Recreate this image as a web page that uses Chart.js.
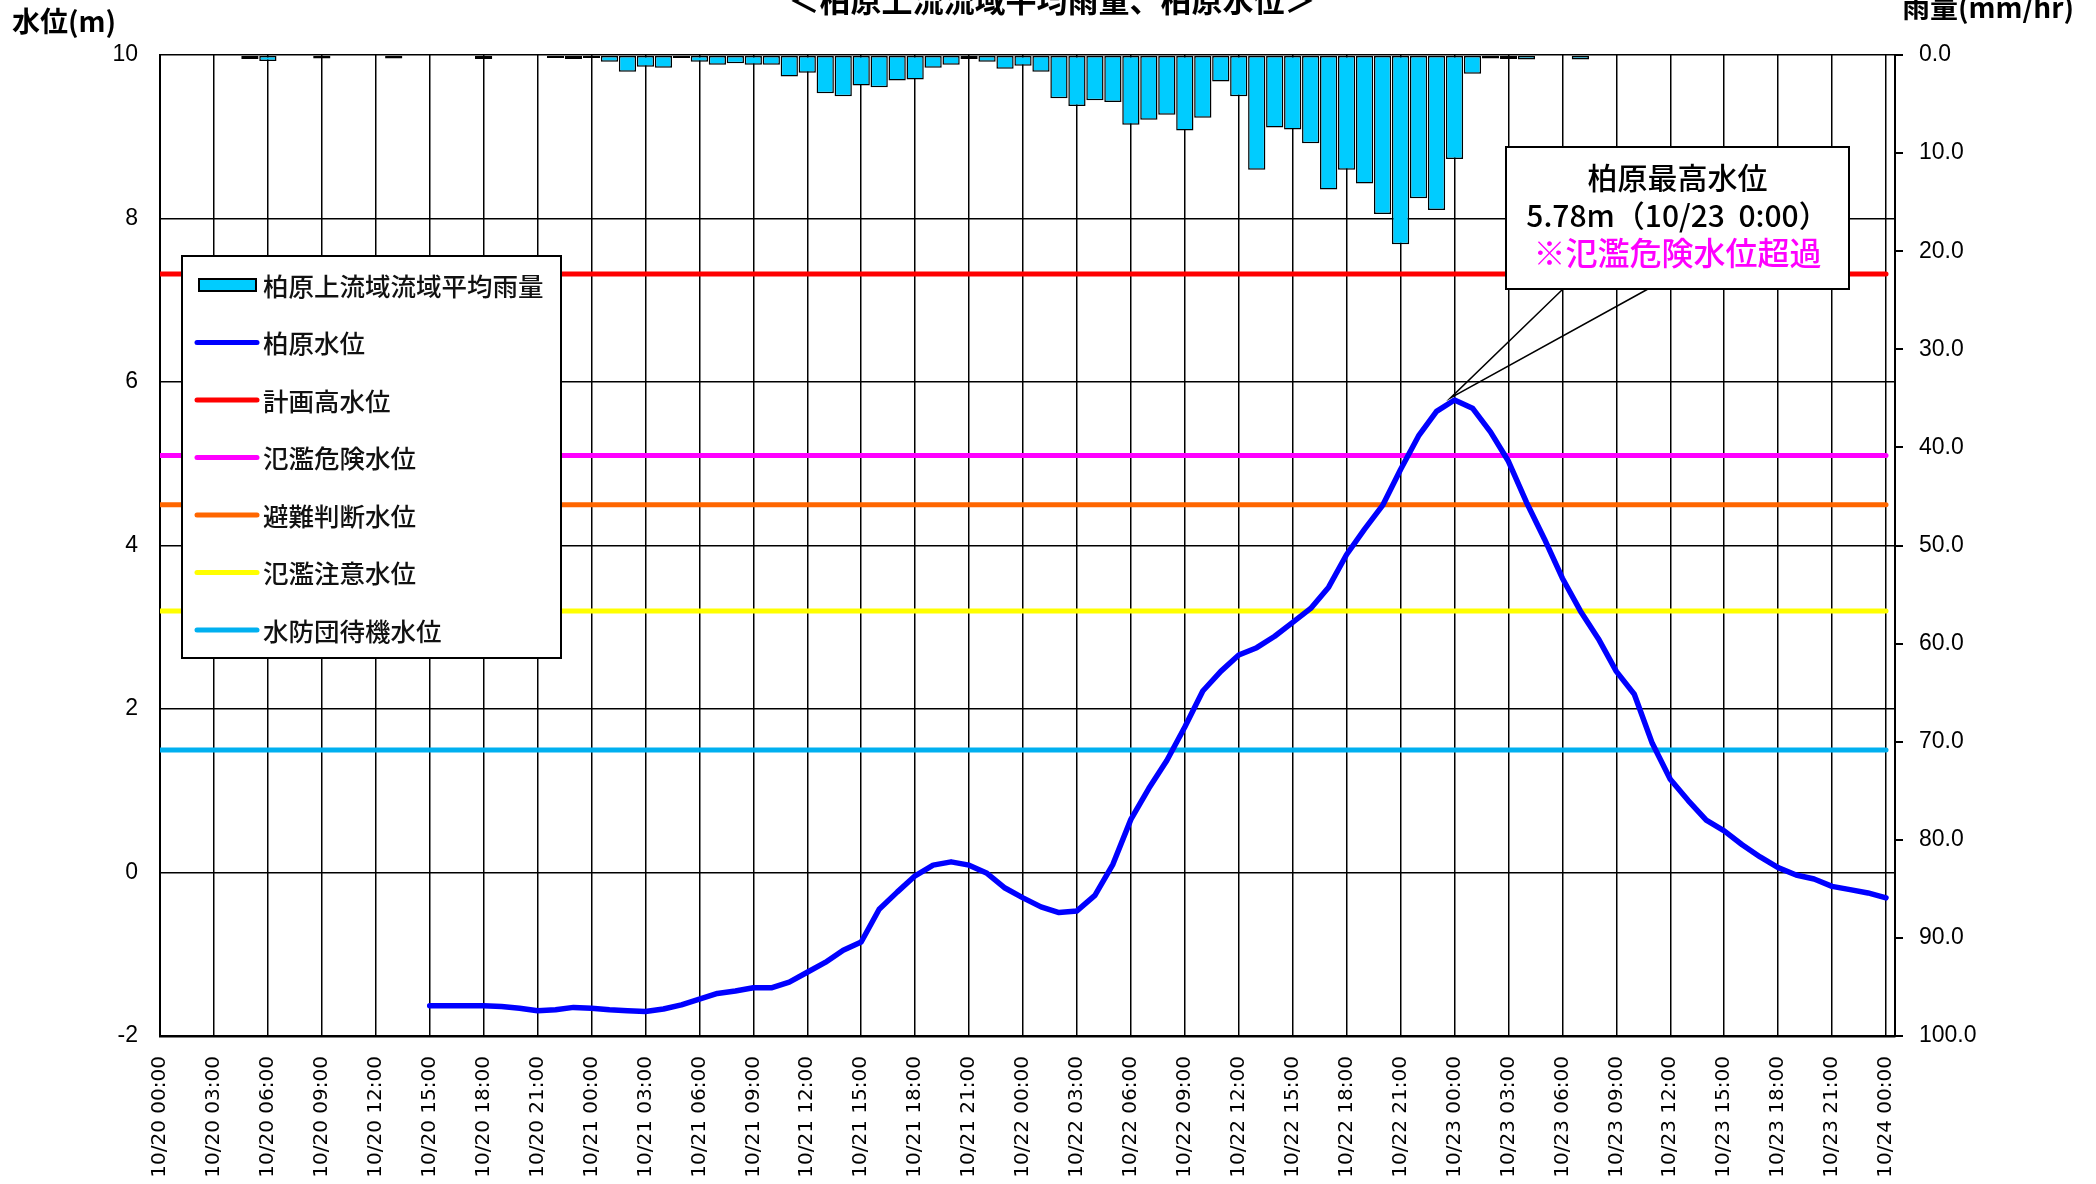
<!DOCTYPE html>
<html lang="ja">
<head>
<meta charset="utf-8">
<title>柏原上流流域平均雨量、柏原水位</title>
<script src="https://cdn.jsdelivr.net/npm/chart.js@4.4.1/dist/chart.umd.min.js"></script>
<style>
body{margin:0;background:#fff;}
#wrap{width:2096px;height:1184px;}
</style>
</head>
<body>
<div id="wrap"><canvas id="chart" width="2096" height="1184"></canvas></div>
<script>
// 10/20 00:00 - 10/24 00:00, hourly (97 points)
const timeLabels = []
for(let h = 0; h <= 96; h++){
    const day = 20 + Math.floor(h / 24)
    const hour = h % 24
    timeLabels.push("10/" + day + " " + (hour >= 10 ? hour : "0" + hour) + ":00")
}
const timeTicks = [0, 3, 6, 9, 12, 15, 18, 21, 24, 27, 30, 33, 36, 39, 42, 45, 48, 51, 54, 57, 60, 63, 66, 69, 72, 75, 78, 81, 84, 87, 90, 93, 96]
const levelTicks = [-2, 0, 2, 4, 6, 8, 10]
const rainTicks = [0, 10, 20, 30, 40, 50, 60, 70, 80, 90, 100]

// 柏原上流域流域平均雨量 (mm/hr)
const rainfall = [
    0, 0.1, 0, 0.1, 0, 0.4, 0.6, 0, 0.1, 0.35, 0.1, 0.1, 0, 0.35, 0.1, 0, 0, 0, 0.4, 0, 0.1, 0, 0.3, 0.4,             // 10/20
    0.3, 0.7, 1.7, 1.2, 1.3, 0.3, 0.7, 1.0, 0.85, 1.0, 1.0, 2.2, 1.8, 3.9, 4.2, 3.1, 3.3, 2.6, 2.5, 1.3, 1.0, 0.4, 0.7, 1.4, // 10/21
    1.1, 1.7, 4.4, 5.2, 4.6, 4.8, 7.1, 6.6, 6.1, 7.7, 6.4, 2.7, 4.2, 11.7, 7.4, 7.6, 9.0, 13.7, 11.7, 13.1, 16.2, 19.3, 14.6, 15.8, // 10/22
    10.6, 1.9, 0.35, 0.4, 0.45, 0.1, 0, 0.45, 0, 0, 0, 0, 0, 0, 0, 0, 0, 0, 0, 0, 0, 0, 0, 0,   // 10/23
    0                                                                                           // 10/24 0:00
]

// 柏原水位 (m)
const waterLevel = [
    null, null, null, null, null, null, null, null, null, null, null, null, null, null, null,
    -1.63, -1.63, -1.63, -1.63, -1.64, -1.66, -1.69, -1.68, -1.65,
    -1.66, -1.68, -1.69, -1.70, -1.67, -1.62, -1.55, -1.48, -1.45, -1.41, -1.41, -1.34,
    -1.22, -1.10, -0.95, -0.85, -0.45, -0.24, -0.04, 0.09, 0.13, 0.09, -0.01, -0.19,
    -0.31, -0.42, -0.49, -0.47, -0.28, 0.10, 0.65, 1.03, 1.37, 1.78, 2.22, 2.46,
    2.66, 2.75, 2.89, 3.06, 3.23, 3.49, 3.89, 4.20, 4.49, 4.93, 5.34, 5.64,
    5.78, 5.68, 5.39, 5.03, 4.53, 4.08, 3.60, 3.20, 2.86, 2.46, 2.18, 1.58,
    1.14, 0.88, 0.64, 0.51, 0.34, 0.19, 0.06, -0.03, -0.08, -0.17, -0.21, -0.25,
    -0.31
]

// 基準水位
const thresholdNames = ["計画高水位", "氾濫危険水位", "避難判断水位", "氾濫注意水位", "水防団待機水位"]
const thresholdValues = [7.32, 5.10, 4.50, 3.20, 1.50]
const thresholdColors = ["#FF0000", "#FF00FF", "#FF6600", "#FFFF00", "#00B0F0"]

const chartTitle = "＜柏原上流流域平均雨量、柏原水位＞"
const leftTitle = "水位(m)"
const rightTitle = "雨量(mm/hr)"
const calloutLines = ["柏原最高水位", "5.78m（10/23  0:00）", "※氾濫危険水位超過"]
const calloutColors = ["#000000", "#000000", "#FF00FF"]

const CJK = '"Noto Sans CJK JP", sans-serif'
Chart.defaults.font.family = CJK

const datasets = [{
    type: "bar",
    label: "柏原上流域流域平均雨量",
    data: rainfall.map((v, i) => ({x: i, y: v})),
    yAxisID: "y2",
    backgroundColor: "#00CCFF",
    borderColor: "#000000",
    borderWidth: 1.5,
    borderSkipped: false,
    barPercentage: 0.96,
    categoryPercentage: 1,
    order: 3
}, {
    type: "line",
    label: "柏原水位",
    data: waterLevel.map((v, i) => ({x: i, y: v})),
    yAxisID: "y",
    borderColor: "#0000FF",
    borderWidth: 5.5,
    borderCapStyle: "round",
    borderJoinStyle: "round",
    pointRadius: 0,
    tension: 0,
    fill: false,
    order: 0
}]
for(let i = 0; i < thresholdNames.length; i++){
    datasets.push({
        type: "line",
        label: thresholdNames[i],
        data: [{x: 0, y: thresholdValues[i]}, {x: 96, y: thresholdValues[i]}],
        yAxisID: "y",
        borderColor: thresholdColors[i],
        borderWidth: 5,
        borderCapStyle: "round",
        pointRadius: 0,
        fill: false,
        order: 1
    })
}

// titles, legend box and callout drawn on top
const overlay = {
    id: "overlay",
    afterDraw(chart){
        const ctx = chart.ctx
        const area = chart.chartArea
        ctx.save()

        ctx.fillStyle = "#000"
        ctx.textBaseline = "alphabetic"
        ctx.font = "bold 31px " + CJK
        ctx.textAlign = "center"
        ctx.fillText(chartTitle, 1052, 12)
        ctx.font = "bold 28px " + CJK
        ctx.textAlign = "left"
        ctx.fillText(leftTitle, 12, 32)
        ctx.textAlign = "right"
        ctx.fillText(rightTitle, 2074, 18)

        // legend
        const lx = area.left + 22, ly = area.top + 201
        ctx.fillStyle = "#fff"
        ctx.fillRect(lx, ly, 379, 402)
        ctx.strokeStyle = "#000"
        ctx.lineWidth = 2
        ctx.strokeRect(lx, ly, 379, 402)
        ctx.font = "500 25.5px " + CJK
        ctx.textAlign = "left"
        ctx.textBaseline = "middle"
        chart.data.datasets.forEach((ds, i) => {
            const cy = ly + 29 + i * 57.5
            if(ds.type === "bar"){
                ctx.fillStyle = ds.backgroundColor
                ctx.fillRect(lx + 17, cy - 6, 57, 12)
                ctx.lineWidth = 2
                ctx.strokeStyle = "#000"
                ctx.strokeRect(lx + 17, cy - 6, 57, 12)
            }else{
                ctx.strokeStyle = ds.borderColor
                ctx.lineWidth = 5
                ctx.lineCap = "round"
                ctx.beginPath()
                ctx.moveTo(lx + 15, cy)
                ctx.lineTo(lx + 75, cy)
                ctx.stroke()
            }
            ctx.fillStyle = "#111"
            ctx.fillText(ds.label, lx + 81, cy + 1)
        })

        // callout for the peak
        let peak = 0
        waterLevel.forEach((v, i) => { if(v !== null && v > waterLevel[peak]) peak = i })
        const px = chart.scales.x.getPixelForValue(peak)
        const py = chart.scales.y.getPixelForValue(waterLevel[peak])
        const bx = 1506, by = 147, bw = 343, bh = 142
        ctx.lineCap = "butt"
        ctx.strokeStyle = "#000"
        ctx.lineWidth = 1.5
        ctx.beginPath()
        ctx.moveTo(bx + 57, by + bh)
        ctx.lineTo(px - 4, py - 2)
        ctx.lineTo(bx + 142, by + bh)
        ctx.stroke()
        ctx.fillStyle = "#fff"
        ctx.fillRect(bx, by, bw, bh)
        ctx.lineWidth = 2
        ctx.strokeRect(bx, by, bw, bh)
        ctx.textAlign = "center"
        calloutLines.forEach((t, i) => {
            ctx.font = (i == 2 ? "500 32px " : "500 30px ") + CJK
            ctx.fillStyle = calloutColors[i]
            ctx.fillText(t, bx + bw / 2, by + 31 + i * 37.5)
        })
        ctx.restore()
    }
}

new Chart(document.getElementById("chart"), {
    type: "line",
    data: {datasets: datasets},
    options: {
        responsive: false,
        devicePixelRatio: 1,
        animation: false,
        events: [],
        layout: {padding: {top: 55, left: 0, right: 0, bottom: 0}},
        plugins: {
            legend: {display: false},
            tooltip: {enabled: false}
        },
        scales: {
            x: {
                type: "linear",
                min: 0,
                max: 96.5,
                offset: false,
                afterBuildTicks: s => { s.ticks = timeTicks.map(v => ({value: v})) },
                afterFit: s => { s.height = 148 },
                grid: {color: "#000", lineWidth: 1.5, drawTicks: false, offset: false},
                border: {color: "#000", width: 2.5},
                ticks: {
                    autoSkip: false,
                    minRotation: 90,
                    maxRotation: 90,
                    padding: 20,
                    color: "#000",
                    font: {family: '"DejaVu Sans"', size: 20},
                    callback: v => timeLabels[v]
                }
            },
            y: {
                position: "left",
                min: -2,
                max: 10,
                afterBuildTicks: s => { s.ticks = levelTicks.map(v => ({value: v})) },
                afterFit: s => { s.width = 160 },
                grid: {color: "#000", lineWidth: 1.5, drawTicks: false},
                border: {color: "#000", width: 2},
                ticks: {padding: 22, color: "#000", font: {family: '"Liberation Sans"', size: 23}}
            },
            y2: {
                position: "right",
                min: 0,
                max: 100,
                reverse: true,
                afterBuildTicks: s => { s.ticks = rainTicks.map(v => ({value: v})) },
                afterFit: s => { s.width = 201 },
                grid: {drawOnChartArea: false, color: "#000", lineWidth: 2, tickLength: 8},
                border: {color: "#000", width: 2},
                ticks: {padding: 16, color: "#000", font: {family: '"Liberation Sans"', size: 23}, callback: v => v.toFixed(1)}
            }
        }
    },
    plugins: [overlay]
})
</script>
</body>
</html>
